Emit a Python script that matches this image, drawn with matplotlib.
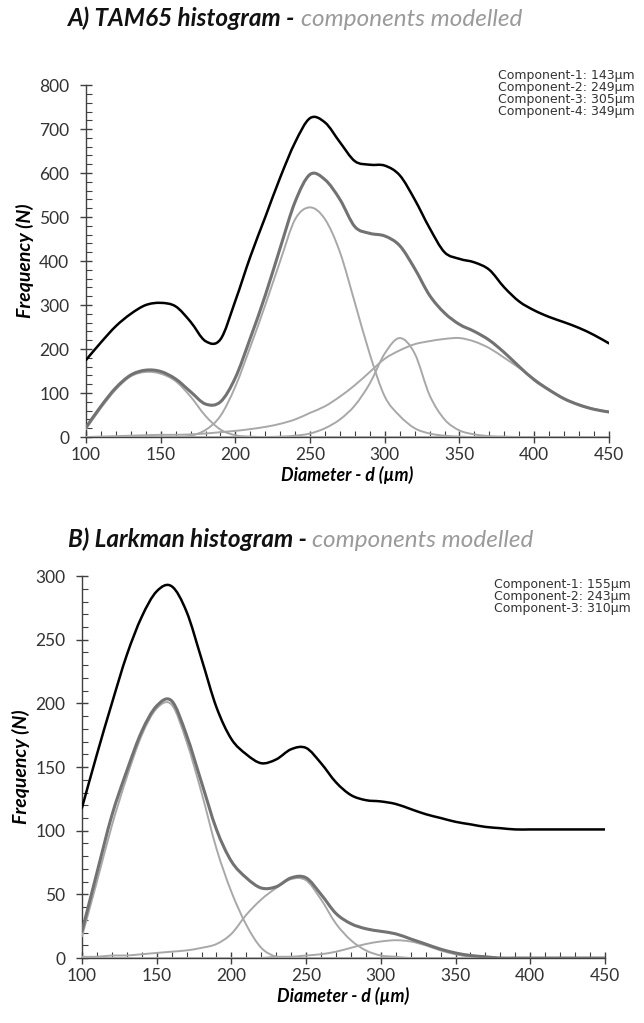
import numpy as np
import matplotlib.pyplot as plt
from matplotlib.path import Path
from matplotlib.patches import PathPatch
from matplotlib.ticker import MultipleLocator

plt.rcParams['font.family'] = ['Lato', 'DejaVu Sans']

# diameter grid (µm)
diam = list(range(100, 451, 10))

# A) TAM65
tam_hist = [175, 215, 252, 280, 300, 305, 297, 262, 218, 222, 310, 410, 500, 590, 670, 725, 715, 670,
            627, 619, 617, 595, 540, 475, 420, 405, 397, 380, 340, 308, 288, 273, 261, 248, 232, 213]
tam_model = [22, 70, 112, 141, 152, 149, 132, 103, 75, 80, 135, 225, 322, 430, 535, 597, 585, 540,
             478, 463, 457, 435, 383, 322, 282, 256, 240, 220, 192, 160, 130, 107, 87, 73, 63, 57]
tam_c1 = [18, 66, 108, 138, 148, 144, 127, 92, 48, 17, 4, 1, 0, 0, 0, 0, 0, 0,
          0, 0, 0, 0, 0, 0, 0, 0, 0, 0, 0, 0, 0, 0, 0, 0, 0, 0]
tam_c2 = [0, 0, 0, 0, 0, 0, 0, 3, 16, 48, 115, 205, 300, 400, 495, 522, 495, 420,
          305, 188, 92, 48, 20, 8, 3, 1, 0, 0, 0, 0, 0, 0, 0, 0, 0, 0]
tam_c3 = [0, 0, 0, 0, 0, 0, 0, 0, 0, 0, 0, 0, 0, 1, 3, 8, 20, 40,
          72, 122, 190, 225, 190, 95, 40, 15, 6, 2, 1, 0, 0, 0, 0, 0, 0, 0]
tam_c4 = [0, 1, 2, 3, 4, 5, 5, 6, 8, 11, 14, 18, 23, 30, 40, 55, 70, 92,
          118, 148, 178, 197, 211, 218, 223, 225, 217, 202, 180, 157, 132, 108, 88, 74, 64, 57]
tam_labels = ['Component-1: 143µm', 'Component-2: 249µm', 'Component-3: 305µm', 'Component-4: 349µm']

# B) Larkman
lark_hist = [118, 160, 200, 238, 268, 288, 292, 272, 235, 197, 172, 160, 153, 156, 164, 165, 153, 138,
             128, 124, 123, 121, 117, 113, 110, 107, 105, 103, 102, 101, 101, 101, 101, 101, 101, 101]
lark_model = [21, 67, 112, 147, 178, 198, 202, 175, 138, 101, 76, 63, 55, 56, 63, 63, 50, 35,
              27, 23, 21, 19, 15, 11, 7, 4, 2, 1, 0, 0, 0, 0, 0, 0, 0, 0]
lark_c1 = [17, 60, 104, 142, 175, 196, 199, 170, 130, 86, 52, 26, 8, 1, 0, 0, 0, 0,
           0, 0, 0, 0, 0, 0, 0, 0, 0, 0, 0, 0, 0, 0, 0, 0, 0, 0]
lark_c2 = [1, 1, 2, 2, 3, 4, 5, 6, 8, 11, 19, 34, 46, 55, 62, 61, 46, 27,
           14, 6, 2, 1, 0, 0, 0, 0, 0, 0, 0, 0, 0, 0, 0, 0, 0, 0]
lark_c3 = [0, 0, 0, 0, 0, 0, 0, 0, 0, 0, 0, 0, 0, 1, 1, 2, 3, 5,
           8, 11, 13, 14, 13, 10, 6, 3, 1, 0, 0, 0, 0, 0, 0, 0, 0, 0]
lark_labels = ['Component-1: 155µm', 'Component-2: 243µm', 'Component-3: 310µm']

BLACK = '#000000'
DARK = '#727272'
LIGHT = '#a8a8a8'
AXC = '#404040'


def smooth_line(ax, x, y, color, lw, z):
    # excel style smoothed line (catmull-rom drawn as cubic bezier)
    x = np.asarray(x, float)
    y = np.asarray(y, float)
    n = len(x)
    verts = [(x[0], y[0])]
    codes = [Path.MOVETO]
    for i in range(n - 1):
        i0 = max(i - 1, 0)
        i3 = min(i + 2, n - 1)
        c1 = (x[i] + (x[i + 1] - x[i0]) / 6, y[i] + (y[i + 1] - y[i0]) / 6)
        c2 = (x[i + 1] - (x[i3] - x[i]) / 6, y[i + 1] - (y[i3] - y[i]) / 6)
        verts += [c1, c2, (x[i + 1], y[i + 1])]
        codes += [Path.CURVE4] * 3
    ax.add_patch(PathPatch(Path(verts, codes), fill=False, edgecolor=color, lw=lw, zorder=z,
                           capstyle='round', joinstyle='round'))


def setup(ax, ymax, ymaj, ymin):
    ax.set_xlim(100, 450)
    ax.set_ylim(0, ymax)
    for s in ['top', 'right']:
        ax.spines[s].set_visible(False)
    for s in ['left', 'bottom']:
        ax.spines[s].set_color(AXC)
        ax.spines[s].set_linewidth(1.0)
    ax.xaxis.set_major_locator(MultipleLocator(50))
    ax.xaxis.set_minor_locator(MultipleLocator(10))
    ax.yaxis.set_major_locator(MultipleLocator(ymaj))
    ax.yaxis.set_minor_locator(MultipleLocator(ymin))
    ax.tick_params(which='major', direction='inout', length=8, width=1, color=AXC,
                   labelsize=12.5, labelcolor='#333333')
    ax.tick_params(axis='y', which='major', pad=8)
    ax.tick_params(which='minor', direction='in', length=4, width=0.8, color=AXC)
    ax.set_xlabel('Diameter - d (µm)', fontsize=12.8, fontweight='bold', fontstyle='italic', labelpad=2)
    ax.set_ylabel('Frequency (N)', fontsize=14, fontweight='bold', fontstyle='italic', labelpad=4)


def title(fig, x, y, name):
    t1 = fig.text(x, y, name + ' histogram - ', fontsize=17.5, fontweight='bold',
                  fontstyle='italic', color='#111111', va='bottom')
    fig.get_axes()[0].annotate('components modelled', xy=(1, 0), xycoords=t1, fontsize=17.5,
                               fontstyle='italic', color='#9a9a9a', va='bottom')


fig = plt.figure(figsize=(6.44, 10.23), dpi=100)
ax1 = fig.add_axes([0.1335, 0.5728, 0.812, 0.344])
ax2 = fig.add_axes([0.1273, 0.0635, 0.812, 0.3734])

for ax, comps, model, hist in [(ax1, [tam_c1, tam_c2, tam_c3, tam_c4], tam_model, tam_hist),
                               (ax2, [lark_c1, lark_c2, lark_c3], lark_model, lark_hist)]:
    for c in comps:
        smooth_line(ax, diam, c, LIGHT, 1.4, 3)
    smooth_line(ax, diam, model, DARK, 2.2, 4)
    smooth_line(ax, diam, hist, BLACK, 1.8, 5)

setup(ax1, 800, 100, 20)
setup(ax2, 300, 50, 10)

title(fig, 0.106, 0.971, 'A) TAM65')
title(fig, 0.106, 0.461, 'B) Larkman')

for ax, labels, top, step in [(ax1, tam_labels, 1.028, 0.0341), (ax2, lark_labels, 0.977, 0.0314)]:
    for i, lab in enumerate(labels):
        ax.text(0.788, top - i * step, lab, transform=ax.transAxes, fontsize=9.0,
                family='DejaVu Sans', color='#333333', va='center', ha='left')

fig.savefig('out.png', dpi=100)
